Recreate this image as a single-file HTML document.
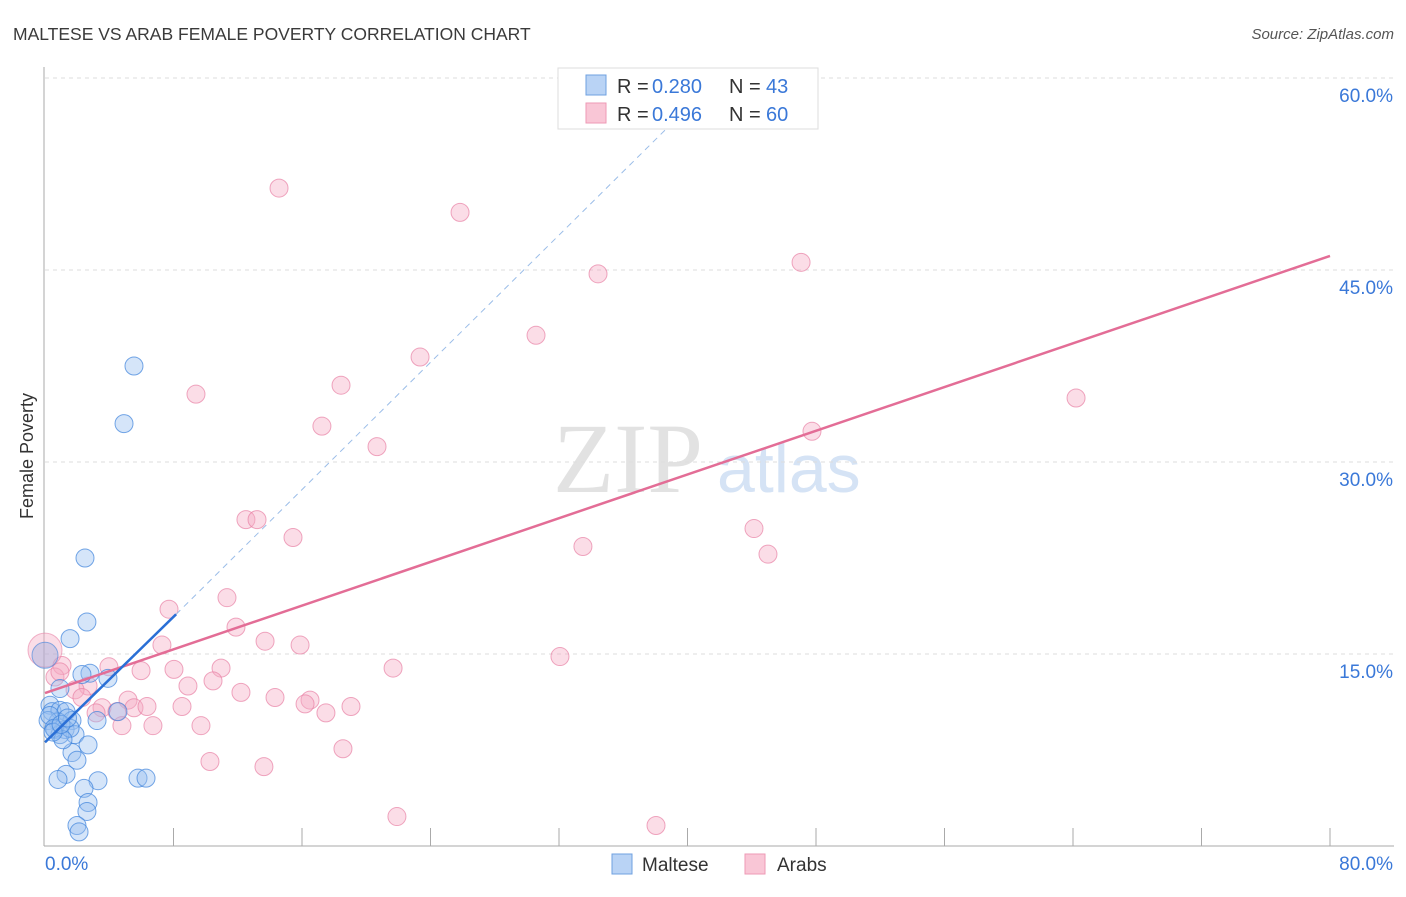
<!DOCTYPE html>
<html><head><meta charset="utf-8"><style>
body{margin:0;background:#fff;font-family:"Liberation Sans",sans-serif}
svg text{font-family:"Liberation Sans",sans-serif}
</style></head><body>
<svg width="1406" height="892" xmlns="http://www.w3.org/2000/svg" id="c">
<text x="13" y="40" font-size="17.5" fill="#3a3a3a">MALTESE VS ARAB FEMALE POVERTY CORRELATION CHART</text>
<text x="1394" y="39" font-size="15" fill="#555" text-anchor="end" font-style="italic">Source: ZipAtlas.com</text>
<text x="553" y="492" font-size="100" fill="#e2e2e2" style="font-family:'Liberation Serif',serif">ZIP</text>
<text x="717" y="492" font-size="68" fill="#d5e3f5">atlas</text>
<text transform="translate(33,456) rotate(-90)" font-size="18" fill="#333" text-anchor="middle">Female Poverty</text>
<g id="grid"></g><g id="marks"></g>
<g>
<rect x="558" y="68" width="260" height="61" fill="#fff" stroke="#ddd"/>
<rect x="586" y="75" width="20" height="20" fill="#b9d3f5" stroke="#6fa0e0"/>
<rect x="586" y="103" width="20" height="20" fill="#f9c6d6" stroke="#ee9ab5"/>
<text x="617" y="93" font-size="20" fill="#333">R =</text>
<text x="652" y="93" font-size="20" fill="#3a78d8">0.280</text>
<text x="729" y="93" font-size="20" fill="#333">N =</text>
<text x="766" y="93" font-size="20" fill="#3a78d8">43</text>
<text x="617" y="121" font-size="20" fill="#333">R =</text>
<text x="652" y="121" font-size="20" fill="#3a78d8">0.496</text>
<text x="729" y="121" font-size="20" fill="#333">N =</text>
<text x="766" y="121" font-size="20" fill="#3a78d8">60</text>
</g>
<g>
<rect x="612" y="854" width="20" height="20" fill="#b9d3f5" stroke="#6fa0e0"/>
<text x="642" y="871" font-size="19" fill="#333">Maltese</text>
<rect x="745" y="854" width="20" height="20" fill="#f9c6d6" stroke="#ee9ab5"/>
<text x="777" y="871" font-size="19" fill="#333">Arabs</text>
</g>
</svg>
<script>
const yTicks=[15,30,45,60];
const xTickLabels=["0.0%","80.0%"];
const maltX=[5.54,4.92,2.49,2.61,1.56,2.80,2.30,3.92,0.93,0.31,0.44,0.93,1.31,4.54,1.68,0.81,0.19,0.62,1.25,1.87,0.93,1.56,2.68,1.68,1.99,1.31,0.81,3.30,5.79,6.29,2.43,2.68,2.61,1.99,2.12,0.3,0.56,1.12,3.24,0.5,1.0,1.4];
const maltY=[37.5,33.0,22.5,17.5,16.2,13.5,13.4,13.1,12.3,11.0,10.5,10.6,10.5,10.5,9.8,9.7,9.8,9.1,9.1,8.7,8.7,9.2,7.9,7.3,6.7,5.6,5.2,5.1,5.3,5.3,4.5,3.4,2.7,1.6,1.1,10.2,9.2,8.3,9.8,8.9,9.5,10.0];
const arabX=[14.57,25.84,47.07,34.43,30.57,23.35,18.43,9.40,64.19,17.24,47.75,20.67,12.51,13.20,15.44,44.14,33.49,45.01,7.72,11.33,11.89,13.70,7.28,15.88,32.06,1.06,3.98,5.98,8.03,10.96,21.67,0.62,0.93,2.68,8.90,10.46,1.87,2.30,5.17,12.20,14.32,16.50,16.19,19.05,3.55,5.54,6.35,8.53,3.18,4.48,17.49,4.79,6.72,9.71,18.55,10.27,13.63,21.91,38.04];
const arabY=[51.4,49.5,45.6,44.7,39.9,38.2,36.0,35.3,35.0,32.8,32.4,31.2,25.5,25.5,24.1,24.8,23.4,22.8,18.5,19.4,17.1,16.0,15.7,15.7,14.8,14.1,14.0,13.7,13.8,13.9,13.9,13.2,13.6,12.5,12.5,12.9,12.2,11.6,11.4,12.0,11.6,11.4,11.1,10.9,10.8,10.8,10.9,10.9,10.4,10.5,10.4,9.4,9.4,9.4,7.6,6.6,6.2,2.3,1.6];
const bigX=[0,0];const bigY=[14.9,15.3];
const maltLine=[0,8.1,8.16,18.1];const maltDash=[8.16,18.1,38.9,56.3];
const arabLine=[0,11.95,80,46.1];
const X=v=>45+v/80*1285, Y=v=>846-v/15*192;
const NS="http://www.w3.org/2000/svg";
const g=document.getElementById('grid'),m=document.getElementById('marks');
function mk(p,tag,a){const e=document.createElementNS(NS,tag);for(const k in a)e.setAttribute(k,a[k]);p.appendChild(e);return e;}
yTicks.forEach(t=>{
const l=mk(g,'line',{x1:45,x2:1394,y1:Y(t),y2:Y(t),stroke:'#ddd','stroke-dasharray':'4,4'});


const tx=mk(g,'text',{x:1393,y:Y(t)+24,'font-size':19,fill:'#3a78d8','text-anchor':'end'});tx.textContent=t.toFixed(1)+'%';


});
const ax=mk(g,'line',{x1:44,x2:44,y1:67,y2:846,stroke:'#aaa'});


const bx=mk(g,'line',{x1:44,x2:1394,y1:846,y2:846,stroke:'#aaa'});


for(let i=1;i<=10;i++){const t=mk(g,'line',{x1:X(i*8),x2:X(i*8),y1:828,y2:846,stroke:'#aaa'});

}
const x0=mk(g,'text',{x:45,y:870,'font-size':19,fill:'#3a78d8'});x0.textContent=xTickLabels[0];


const x1=mk(g,'text',{x:1393,y:870,'font-size':19,fill:'#3a78d8','text-anchor':'end'});x1.textContent=xTickLabels[1];


arabX.forEach((v,i)=>{const c=mk(m,'circle',{cx:X(v),cy:Y(arabY[i]),r:9,fill:'rgba(246,170,196,0.4)',stroke:'rgba(232,130,165,0.7)'});

});
maltX.forEach((v,i)=>{const c=mk(m,'circle',{cx:X(v),cy:Y(maltY[i]),r:9,fill:'rgba(150,190,240,0.4)',stroke:'rgba(60,130,220,0.7)'});

});
const b1=mk(m,'circle',{cx:X(bigX[1]),cy:Y(bigY[1]),r:17,fill:'rgba(246,170,196,0.4)',stroke:'rgba(232,130,165,0.6)'});


const b0=mk(m,'circle',{cx:X(bigX[0]),cy:Y(bigY[0]),r:13,fill:'rgba(150,170,220,0.4)',stroke:'rgba(60,130,220,0.6)'});


const d=mk(m,'line',{x1:X(maltDash[0]),y1:Y(maltDash[1]),x2:X(maltDash[2]),y2:Y(maltDash[3]),stroke:'#9bbde8','stroke-dasharray':'6,5','stroke-width':1});


const l1=mk(m,'line',{x1:X(arabLine[0]),y1:Y(arabLine[1]),x2:X(arabLine[2]),y2:Y(arabLine[3]),stroke:'#e36d96','stroke-width':2.5});


const l2=mk(m,'line',{x1:X(maltLine[0]),y1:Y(maltLine[1]),x2:X(maltLine[2]),y2:Y(maltLine[3]),stroke:'#2a6fd6','stroke-width':2.5});


</script>
</body></html>
